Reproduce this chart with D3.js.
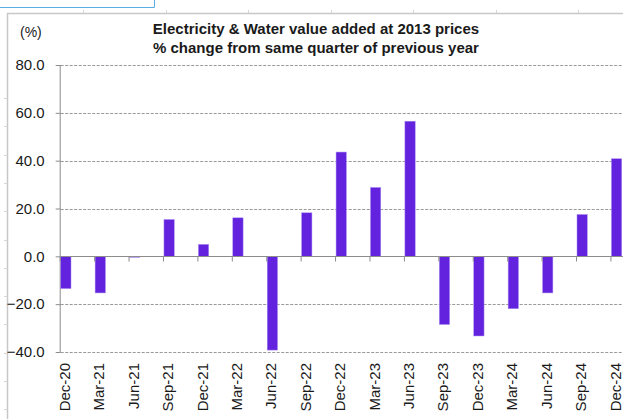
<!DOCTYPE html>
<html>
<head>
<meta charset="utf-8">
<script src="https://cdn.jsdelivr.net/npm/d3@7"></script>
<style>
  html, body { margin: 0; padding: 0; background: #fff; }
  svg { display: block; font-family: "Liberation Sans", Arial, sans-serif; }
</style>
</head>
<body>
<svg id="chart" width="623" height="419"></svg>
<script>
// Quarterly year-on-year change, Electricity & Water value added (2013 prices)
const quarters = ["Dec-20","Mar-21","Jun-21","Sep-21","Dec-21","Mar-22","Jun-22","Sep-22",
                  "Dec-22","Mar-23","Jun-23","Sep-23","Dec-23","Mar-24","Jun-24","Sep-24","Dec-24"];
const changePct = [-13.5, -15.3, -0.4, 15.4, 5.0, 16.1, -39.2, 18.2,
                   43.6, 28.8, 56.5, -28.5, -33.3, -21.9, -15.3, 17.5, 40.8];
const yTicks = [-40, -20, 0, 20, 40, 60, 80];
const titleLines = ["Electricity & Water value added at 2013 prices",
                    "% change from same quarter of previous year"];

const W = 623, H = 419;
const plot = { left: 60.7, top: 65, bottom: 352, right: W };
const step = 34.42, barW = 10.3;

const svg = d3.select("#chart");

// frame of the embedded chart object and surrounding sheet lines
const frame = svg.append("g");
frame.append("path")
  .attr("d", `M0,7.5H154.5V0`)
  .attr("fill", "none").attr("stroke", "#5aaee6").attr("stroke-width", 1);
frame.append("path")
  .attr("d", `M7.5,${H}V13.5H${W}`)
  .attr("fill", "none").attr("stroke", "#c8c8c8").attr("stroke-width", 1.5);
[83, 166, 248, 331, 413, 496, 578].forEach(x => {
  frame.append("line").attr("x1", x + 0.5).attr("x2", x + 0.5).attr("y1", 10).attr("y2", 13)
    .attr("stroke", "#d6d6d6");
});
d3.range(98, H, 28.3).forEach(y => {
  frame.append("line").attr("x1", 4).attr("x2", 7).attr("y1", Math.round(y) + 0.5).attr("y2", Math.round(y) + 0.5)
    .attr("stroke", "#d6d6d6");
});

const x = d3.scaleBand()
  .domain(quarters)
  .range([plot.left, plot.left + step * quarters.length])
  .paddingInner(0).paddingOuter(0);

const y = d3.scaleLinear().domain([-40, 80]).range([plot.bottom, plot.top]);

// dashed horizontal gridlines
svg.append("g")
  .selectAll("line")
  .data(yTicks.filter(v => v !== 0))
  .join("line")
  .attr("x1", plot.left).attr("x2", plot.right)
  .attr("y1", d => Math.round(y(d)) + 0.5).attr("y2", d => Math.round(y(d)) + 0.5)
  .attr("stroke", "#9a9a9a").attr("stroke-width", 1)
  .attr("stroke-dasharray", "3,1.5");

// value axis
const yAxis = d3.axisLeft(y).tickValues(yTicks).tickSize(5).tickPadding(11)
  .tickFormat(d3.format(".1f"));
const gy = svg.append("g").attr("transform", `translate(${plot.left},0)`).call(yAxis);
gy.select(".domain").attr("stroke", "#8c8c8c").attr("d", `M-0.5,${plot.top}V${plot.bottom}`);
gy.selectAll(".tick line").attr("stroke", "#8c8c8c");
gy.selectAll(".tick text").attr("font-size", 15).attr("fill", "#1a1a1a")
  .attr("font-family", "'Liberation Sans', Arial, sans-serif");

// bars
svg.append("g")
  .selectAll("rect")
  .data(quarters.map((q, i) => ({ q, v: changePct[i] })))
  .join("rect")
  .attr("x", d => x(d.q))
  .attr("width", barW)
  .attr("y", d => y(Math.max(0, d.v)))
  .attr("height", d => Math.abs(y(d.v) - y(0)))
  .attr("fill", "#6222de")
  .attr("stroke", "#a98cef").attr("stroke-width", 0.5);

// category axis along the zero line
const xAxis = d3.axisBottom(x).tickSize(5).tickFormat("");
const gx = svg.append("g").attr("transform", `translate(0,${Math.round(y(0)) + 0.5})`).call(xAxis);
gx.select(".domain").attr("stroke", "#8c8c8c").attr("d", `M${plot.left},0H${plot.right}`);
gx.selectAll(".tick").attr("transform", d => `translate(${x(d) - 0.5},0)`);
gx.selectAll(".tick line").attr("stroke", "#8c8c8c");

// rotated category labels below the plot
svg.append("g")
  .selectAll("text")
  .data(quarters)
  .join("text")
  .attr("transform", d => `translate(${x(d) + barW / 2 - 0.5},363) rotate(-90)`)
  .attr("text-anchor", "end")
  .attr("dy", "0.3em")
  .attr("font-size", 15)
  .attr("fill", "#1a1a1a")
  .text(d => d);

// unit label and title
svg.append("text").attr("x", 20).attr("y", 37).attr("font-size", 14).attr("fill", "#1a1a1a").text("(%)");
svg.append("g")
  .selectAll("text")
  .data(titleLines)
  .join("text")
  .attr("x", 316).attr("y", (d, i) => 34 + i * 18.5)
  .attr("text-anchor", "middle")
  .attr("font-size", 15).attr("font-weight", "bold").attr("fill", "#1a1a1a")
  .text(d => d);
</script>
</body>
</html>
